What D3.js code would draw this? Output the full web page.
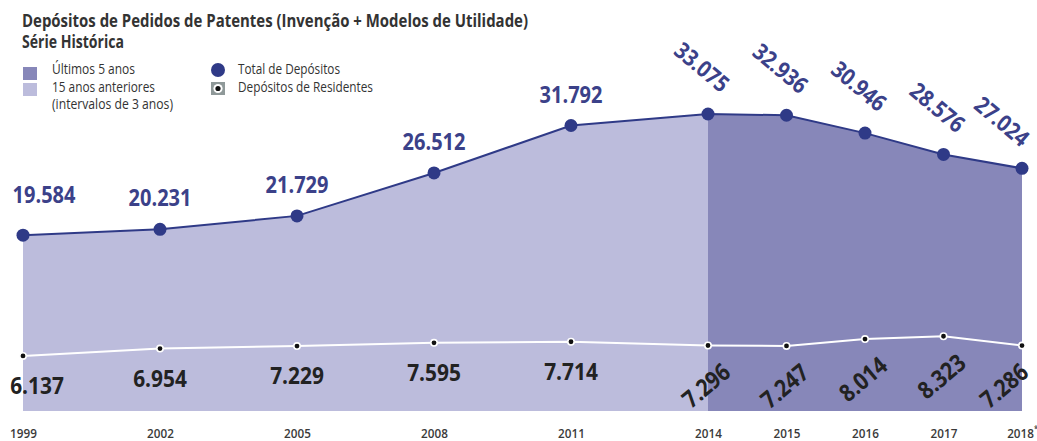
<!DOCTYPE html>
<html>
<head>
<meta charset="utf-8">
<script src="https://cdn.jsdelivr.net/npm/d3@7"></script>
<style>
  html, body { margin: 0; padding: 0; background: #fff; }
  svg { display: block; font-family: "Open Sans", "Noto Sans", sans-serif; }
</style>
</head>
<body>
<svg id="chart" width="1037" height="441"></svg>
<script>
// ---- data ----
const years = [1999, 2002, 2005, 2008, 2011, 2014, 2015, 2016, 2017, 2018];
const tickLabels = ["1999", "2002", "2005", "2008", "2011", "2014", "2015", "2016", "2017", "2018"];
const totals = [19584, 20231, 21729, 26512, 31792, 33075, 32936, 30946, 28576, 27024];
const residents = [6137, 6954, 7229, 7595, 7714, 7296, 7247, 8014, 8323, 7286];
const splitYear = 2014;
const titleLines = ["Depósitos de Pedidos de Patentes (Invenção + Modelos de Utilidade)", "Série Histórica"];
const legendAreas = [["Últimos 5 anos"], ["15 anos anteriores", "(intervalos de 3 anos)"]];
const legendMarks = ["Total de Depósitos", "Depósitos de Residentes"];

const fmt = v => d3.format(",")(v).replace(/,/g, ".");

const svg = d3.select("#chart");
const NAVY = "#2f3a87", DARK = "#8787b9", LIGHT = "#bcbcdc", TXT = "#333333";

const x = d3.scaleLinear().domain([1999, 2014, 2018]).range([23, 708, 1022]);
const y = d3.scaleLinear().domain([0, 33075]).range([411, 114]);

const data = years.map((yr, i) => ({ yr, i, total: totals[i], res: residents[i] }));

// ---- areas ----
const area = d3.area().x(d => x(d.yr)).y0(y(0)).y1(d => y(d.total));
svg.append("path").datum(data.filter(d => d.yr <= splitYear))
  .attr("d", area).attr("fill", LIGHT);
svg.append("path").datum(data.filter(d => d.yr >= splitYear))
  .attr("d", area).attr("fill", DARK);

// ---- total line ----
svg.append("path").datum(data)
  .attr("d", d3.line().x(d => x(d.yr)).y(d => y(d.total)))
  .attr("fill", "none").attr("stroke", NAVY).attr("stroke-width", 2);
svg.selectAll(".tdot").data(data).join("circle")
  .attr("cx", d => x(d.yr)).attr("cy", d => y(d.total)).attr("r", 6.5)
  .attr("fill", NAVY);

// ---- residents line ----
svg.append("path").datum(data)
  .attr("d", d3.line().x(d => x(d.yr)).y(d => y(d.res)))
  .attr("fill", "none").attr("stroke", "#ffffff").attr("stroke-width", 2);
svg.selectAll(".rdot").data(data).join("circle")
  .attr("cx", d => x(d.yr)).attr("cy", d => y(d.res)).attr("r", 3.2)
  .attr("fill", "#111").attr("stroke", "#ffffff").attr("stroke-width", 1.6);

// ---- value labels ----
const SX = 0.87;
const last = data.length - 1;
data.forEach(d => {
  const cx = x(d.yr);
  if (d.yr < splitYear) {
    const dx = d.i === 0 ? 21 : 0;
    const dy = d.i === 0 ? -32 : -23;
    svg.append("text")
      .attr("transform", `translate(${cx + dx},${y(d.total) + dy}) scale(${SX},1)`)
      .attr("text-anchor", "middle").attr("font-size", 23).attr("font-weight", 700)
      .attr("fill", "#3b4189").text(fmt(d.total));
    const rdx = d.i === 0 ? 14 : 0;
    svg.append("text")
      .attr("transform", `translate(${cx + rdx},${y(d.res) + 38}) scale(${SX},1)`)
      .attr("text-anchor", "middle").attr("font-size", 24).attr("font-weight", 700)
      .attr("fill", "#222").text(fmt(d.res));
  } else {
    const tdx = d.i === last ? -20 : -6;
    svg.append("text")
      .attr("transform", `translate(${cx + tdx},${y(d.total) - 47}) rotate(40) scale(${SX},1)`)
      .attr("text-anchor", "middle").attr("dy", "0.36em").attr("font-size", 23).attr("font-weight", 700)
      .attr("fill", "#3b4189").text(fmt(d.total));
    const rdx = d.i === last ? -18 : -2;
    svg.append("text")
      .attr("transform", `translate(${cx + rdx},${y(d.res) + 40}) rotate(-40) scale(${SX},1)`)
      .attr("text-anchor", "middle").attr("dy", "0.36em").attr("font-size", 24).attr("font-weight", 700)
      .attr("fill", "#222").text(fmt(d.res));
  }
});

// ---- x axis ----
const xAxis = d3.axisBottom(x).tickValues(years)
  .tickFormat((d, i) => tickLabels[i]).tickSize(0);
const gx = svg.append("g").attr("transform", "translate(0,438)").call(xAxis);
gx.select(".domain").remove();
gx.selectAll("text")
  .attr("y", 0).attr("dy", 0)
  .attr("transform", "scale(0.9,1)")
  .attr("font-family", "'Open Sans', sans-serif")
  .attr("font-size", 13).attr("font-weight", 600).attr("fill", "#3a3a3a");
gx.selectAll(".tick").filter(d => d === 2018).select("text")
  .append("tspan").attr("font-size", 8).attr("dy", -6).text("*");

// ---- title ----
svg.append("text").attr("x", 22).attr("y", 27)
  .attr("font-size", 17).attr("font-weight", 700).attr("fill", TXT)
  .attr("textLength", 506).attr("lengthAdjust", "spacingAndGlyphs")
  .text(titleLines[0]);
svg.append("text").attr("x", 22).attr("y", 48)
  .attr("font-size", 17).attr("font-weight", 700).attr("fill", TXT)
  .attr("textLength", 102).attr("lengthAdjust", "spacingAndGlyphs")
  .text(titleLines[1]);

// ---- legend ----
const lg = svg.append("g");
lg.append("rect").attr("x", 23).attr("y", 67).attr("width", 14).attr("height", 13).attr("fill", DARK);
lg.append("rect").attr("x", 23).attr("y", 83).attr("width", 14).attr("height", 13).attr("fill", LIGHT);
const lt = (txt, xx, yy, w) => lg.append("text").attr("x", xx).attr("y", yy)
  .attr("font-size", 14).attr("fill", TXT)
  .attr("textLength", w).attr("lengthAdjust", "spacingAndGlyphs").text(txt);
lt(legendAreas[0][0], 52, 74, 83);
lt(legendAreas[1][0], 52, 92, 103);
lt(legendAreas[1][1], 52, 109, 121);
lg.append("circle").attr("cx", 218).attr("cy", 70).attr("r", 7).attr("fill", NAVY);
lg.append("rect").attr("x", 211).attr("y", 82).attr("width", 14).attr("height", 13).attr("fill", "#8f9999");
lg.append("circle").attr("cx", 218).attr("cy", 88.5).attr("r", 4.6).attr("fill", "#fff");
lg.append("circle").attr("cx", 218).attr("cy", 88.5).attr("r", 2.6).attr("fill", "#111");
lt(legendMarks[0], 238, 74, 102);
lt(legendMarks[1], 238, 92, 135);
</script>
</body>
</html>
